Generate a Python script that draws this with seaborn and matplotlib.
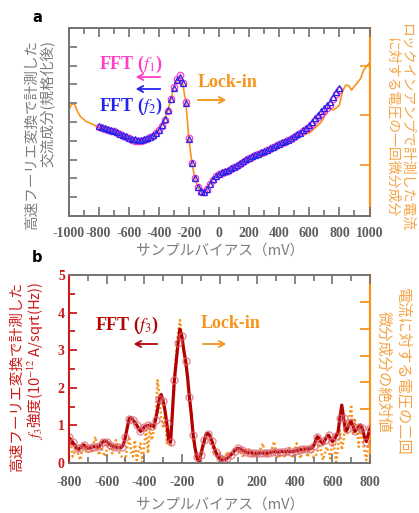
import numpy as np
import matplotlib
matplotlib.use("Agg")
import matplotlib.pyplot as plt
import seaborn as sns

# ---- panel a data (normalised) ----
bias_a_lockin = np.arange(-1000, 1001, 20)
lockin_a = [5.6, 5.95, 5.95, 5.55, 5.28, 5.15, 5.02, 4.95, 4.88, 4.8,
            4.72, 4.68, 4.63, 4.58, 4.52, 4.47, 4.42, 4.34, 4.27, 4.2,
            4.12, 4.02, 3.85, 3.92, 4.0, 4.04, 4.12, 4.2, 4.3, 4.42,
            4.56, 4.82, 5.15, 5.6, 6.2, 6.82, 7.25, 7.4, 7.0, 6.0,
            4.1, 2.8, 2.0, 1.55, 1.3, 1.28, 1.43, 1.7, 1.95, 2.14,
            2.25, 2.3, 2.37, 2.45, 2.54, 2.62, 2.71, 2.81, 2.91, 3.0,
            3.08, 3.16, 3.24, 3.31, 3.37, 3.44, 3.51, 3.58, 3.66, 3.74,
            3.82, 3.9, 3.96, 4.02, 4.08, 4.14, 4.2, 4.26, 4.31, 4.36,
            4.42, 4.55, 4.7, 4.84, 5.0, 5.28, 5.73, 5.7, 5.64, 5.75,
            5.9, 6.6, 6.95, 6.95, 6.7, 6.9, 7.1, 7.3, 7.75, 7.95,
            8.15]

bias_a_fft = np.arange(-800, 801, 20)
fft_f1 = [4.72, 4.7, 4.64, 4.6, 4.54, 4.5, 4.43, 4.36, 4.28, 4.2,
          4.13, 4.06, 4.0, 3.97, 3.98, 4.02, 4.1, 4.18, 4.28, 4.4,
          4.55, 4.8, 5.12, 5.6, 6.2, 6.85, 7.3, 7.52, 7.1, 6.05,
          4.15, 2.82, 2.0, 1.55, 1.3, 1.27, 1.42, 1.7, 1.94, 2.12,
          2.22, 2.28, 2.35, 2.42, 2.52, 2.6, 2.68, 2.78, 2.88, 2.98,
          3.06, 3.14, 3.22, 3.29, 3.35, 3.42, 3.49, 3.57, 3.65, 3.73,
          3.82, 3.89, 3.95, 4.02, 4.09, 4.2, 4.3, 4.4, 4.5, 4.62,
          4.76, 4.92, 5.1, 5.26, 5.44, 5.6, 5.76, 5.92, 6.2, 6.5,
          6.72]
fft_f2 = [4.78, 4.72, 4.68, 4.62, 4.57, 4.52, 4.46, 4.38, 4.31, 4.24,
          4.17, 4.11, 4.07, 4.04, 4.04, 4.07, 4.13, 4.21, 4.31, 4.43,
          4.57, 4.82, 5.16, 5.62, 6.22, 6.82, 7.25, 7.42, 7.05, 6.0,
          4.1, 2.8, 2.0, 1.56, 1.33, 1.3, 1.45, 1.72, 1.96, 2.15,
          2.26, 2.32, 2.39, 2.46, 2.55, 2.63, 2.72, 2.82, 2.92, 3.02,
          3.1, 3.18, 3.25, 3.32, 3.38, 3.45, 3.52, 3.6, 3.68, 3.76,
          3.85, 3.92, 3.98, 4.05, 4.13, 4.24, 4.34, 4.44, 4.56, 4.7,
          4.86, 5.02, 5.2, 5.36, 5.56, 5.72, 5.88, 6.04, 6.32, 6.6,
          6.82]

# ---- panel b data ----
bias_b = np.arange(-800, 801, 10)
fft_f3 = [0.68, 0.62, 0.55, 0.48, 0.4, 0.36, 0.4, 0.46, 0.48, 0.43,
          0.39, 0.4, 0.42, 0.43, 0.43, 0.42, 0.44, 0.5, 0.56, 0.59,
          0.57, 0.52, 0.48, 0.45, 0.43, 0.42, 0.42, 0.41, 0.42, 0.5,
          0.7, 0.95, 1.18, 1.21, 1.15, 1.08, 1.01, 0.92, 0.84, 0.88,
          0.96, 0.99, 1.0, 1.01, 0.99, 0.97, 1.15, 1.4, 1.7, 1.82,
          1.66, 1.4, 1.06, 0.6, 0.55, 1.4, 2.2, 2.7, 3.2, 3.56,
          3.38, 3.0, 2.72, 2.3, 1.75, 1.3, 0.75, 0.4, 0.15, 0.04,
          0.2, 0.43, 0.6, 0.78, 0.78, 0.72, 0.58, 0.43, 0.3, 0.17,
          0.12, 0.08, 0.08, 0.1, 0.12, 0.17, 0.21, 0.26, 0.32, 0.37,
          0.39, 0.38, 0.35, 0.32, 0.3, 0.28, 0.27, 0.27, 0.26, 0.26,
          0.26, 0.26, 0.27, 0.26, 0.26, 0.27, 0.26, 0.28, 0.29, 0.3,
          0.3, 0.29, 0.3, 0.31, 0.3, 0.3, 0.31, 0.3, 0.3, 0.31,
          0.32, 0.33, 0.34, 0.36, 0.36, 0.37, 0.37, 0.38, 0.38, 0.39,
          0.45, 0.58, 0.7, 0.66, 0.56, 0.52, 0.6, 0.7, 0.74, 0.65,
          0.57, 0.62, 0.72, 0.82, 1.2, 1.54, 1.2, 0.85, 0.9, 1.05,
          1.1, 0.98, 0.84, 0.9, 0.96, 1.01, 0.92, 0.7, 0.57, 0.75,
          0.92]
lockin_b = [1.12, 0.7, 0.24, 0.42, 0.6, 0.28, 0.11, 0.49, 0.73, 0.42,
            0.36, 0.55, 0.42, 0.73, 0.98, 0.56, 0.29, 0.6, 0.42, 0.24,
            0.49, 0.73, 0.49, 0.36, 0.63, 0.85, 0.49, 0.35, 0.24, 0.17,
            0.11, 0.63, 0.98, 0.42, 0.24, 0.85, 0.11, 0.42, 0.73, 0.04,
            0.7, 1.23, 0.36, 1.36, 0.85, 1.19, 1.48, 3.08, 2.59, 1.68,
            1.36, 1.85, 0.73, 1.23, 0.6, 2.1, 3.22, 4.06, 4.9, 5.32,
            4.62, 4.2, 3.64, 3.08, 2.38, 1.68, 0.98, 0.49, 0.14, 0.07,
            0.28, 0.49, 0.77, 0.98, 1.05, 0.84, 0.63, 0.42, 0.28, 0.21,
            0.42, 0.14, 0.28, 0.17, 0.42, 0.21, 0.36, 0.28, 0.49, 0.6,
            0.42, 0.49, 0.28, 0.24, 0.42, 0.35, 0.55, 0.42, 0.21, 0.28,
            0.36, 0.42, 0.56, 0.73, 0.42, 0.21, 0.36, 0.42, 0.56, 0.8,
            0.42, 0.17, 0.28, 0.49, 0.35, 0.21, 0.42, 0.6, 0.42, 0.17,
            0.42, 0.73, 0.49, 0.17, 0.42, 0.6, 0.42, 0.21, 0.67, 0.49,
            0.21, 0.28, 0.36, 0.8, 0.42, 0.11, 0.35, 0.6, 0.42, 0.17,
            0.85, 0.56, 0.04, 0.56, 1.23, 0.49, 0.84, 1.6, 1.12, 1.68,
            2.17, 1.1, 1.6, 1.26, 0.6, 1.36, 0.84, 0.49, 0.11, 0.7,
            1.1]

sns.set_theme(style="white")
plt.rcParams["font.family"] = ["Noto Sans CJK JP", "DejaVu Sans"]
plt.rcParams["mathtext.fontset"] = "stix"

PINK = "#ff3ec8"
BLUE = "#2424f0"
ORANGE = "#f7941d"
ORANGE_LT = "#f5a445"
DARKRED = "#b40000"
RED = "#cc1a1a"
GRAY = "#727272"
TICKTXT = "#5e5e5e"
SERIF = "Liberation Serif"

W, H = 419, 513
fig = plt.figure(figsize=(W / 100, H / 100), dpi=100)


def fx(px):
    return px / W


def fy(py):
    return 1 - py / H


def arrow(x0, x1, y, color):
    # arrow pointing from x0 to x1, in picture pixels
    fig.add_artist(matplotlib.patches.FancyArrowPatch(
        (fx(x0), fy(y)), (fx(x1), fy(y)), transform=fig.transFigure,
        arrowstyle="->,head_length=4,head_width=2.2", color=color, lw=1.3))


def style_x(ax, lo, hi, major):
    ax.set_xlim(lo, hi)
    ticks = list(range(lo, hi + 1, major))
    ax.set_xticks(ticks, labels=[str(t) for t in ticks], fontfamily=SERIF,
                  fontweight="bold", fontsize=10, color=TICKTXT)
    ax.set_xticks(range(lo, hi + 1, major // 2), minor=True)
    ax.tick_params(axis="x", which="both", direction="in", top=True, bottom=True,
                   color=GRAY, width=1.2, pad=8)
    ax.tick_params(axis="x", which="major", length=6.5)
    ax.tick_params(axis="x", which="minor", length=4)


# ================= panel a =================
ax_a = fig.add_axes([fx(68.5), fy(216), fx(301), 188 / H])
ax_a2 = ax_a.twinx()

sns.lineplot(x=bias_a_lockin, y=lockin_a, ax=ax_a2, color=ORANGE, lw=1.2,
             sort=False, errorbar=None)
sns.lineplot(x=bias_a_fft, y=fft_f1, ax=ax_a, marker="o", linestyle="",
             markerfacecolor="none", markeredgecolor=PINK, markersize=4.6,
             markeredgewidth=0.9, sort=False, errorbar=None)
sns.lineplot(x=bias_a_fft, y=fft_f2, ax=ax_a, marker="^", linestyle="",
             markerfacecolor="none", markeredgecolor=BLUE, markersize=4.2,
             markeredgewidth=0.9, sort=False, errorbar=None)

ax_a.set_zorder(ax_a2.get_zorder() + 1)
ax_a.patch.set_visible(False)
ax_a.set_ylim(0, 10)
ax_a2.set_ylim(0, 10)
style_x(ax_a, -1000, 1000, 200)
ax_a.set_yticks(range(1, 10))
ax_a.tick_params(axis="y", direction="in", length=6, width=1.2, color=GRAY,
                 labelleft=False, left=True)
ax_a2.set_yticks([2.7, 5.35, 8.0])
ax_a2.tick_params(axis="y", direction="in", length=7, width=1.2, color=ORANGE,
                  labelright=False, right=True)
for s in ["left", "top", "bottom"]:
    ax_a.spines[s].set_color(GRAY)
    ax_a.spines[s].set_linewidth(1.4)
    ax_a2.spines[s].set_visible(False)
ax_a.spines["right"].set_visible(False)
ax_a2.spines["right"].set_color(ORANGE)
ax_a2.spines["right"].set_linewidth(1.6)
ax_a.set_xlabel("")
ax_a.set_ylabel("")
ax_a2.set_ylabel("")

fig.text(fx(37), fy(18), "a", fontsize=10.5, fontweight="bold", color="black",
         ha="center", va="center", family="DejaVu Sans")
fig.text(fx(131), fy(64), "FFT ($f_1$)", color=PINK, fontsize=13, family=SERIF,
         fontweight="bold", ha="center", va="center")
fig.text(fx(131), fy(106), "FFT ($f_2$)", color=BLUE, fontsize=13, family=SERIF,
         fontweight="bold", ha="center", va="center")
fig.text(fx(228), fy(83), "Lock-in", color=ORANGE, fontsize=13, family=SERIF,
         fontweight="bold", ha="center", va="center")
arrow(163, 133, 77, PINK)
arrow(163, 133, 89, BLUE)
arrow(195, 229, 100, ORANGE)

fig.text(fx(40), fy(135), "高速フーリエ変換で計測した\n交流成分(規格化後)",
         rotation=90, ha="center", va="center", multialignment="right",
         color="#7d7d7d", fontsize=10.5, linespacing=1.1)
fig.text(fx(399), fy(127), "ロックインアンプで計測した電流\nに対する電圧の一回微分成分",
         rotation=-90, ha="center", va="center", multialignment="center",
         color=ORANGE_LT, fontsize=10, linespacing=1.1)
fig.text(fx(220), fy(251), "サンプルバイアス（mV）", ha="center", va="center",
         color="#7d7d7d", fontsize=10.5)

# ================= panel b =================
ax_b = fig.add_axes([fx(69), fy(463), fx(301), 188 / H])
ax_b2 = ax_b.twinx()

sns.lineplot(x=bias_b, y=lockin_b, ax=ax_b2, color=ORANGE, lw=1.8,
             linestyle=(0, (0.8, 1.0)), sort=False, errorbar=None)
sns.lineplot(x=bias_b, y=fft_f3, ax=ax_b, color=DARKRED, lw=2.3, marker="o",
             markevery=2, markersize=5, markerfacecolor="none",
             markeredgecolor=(0.85, 0.4, 0.45, 0.75), markeredgewidth=1.0,
             sort=False, errorbar=None)

ax_b.set_zorder(ax_b2.get_zorder() + 1)
ax_b.patch.set_visible(False)
ax_b.set_ylim(0, 5)
ax_b2.set_ylim(0, 7)
style_x(ax_b, -800, 800, 200)
ax_b.tick_params(axis="x", pad=9)
ax_b.set_yticks(range(0, 6), labels=[str(t) for t in range(0, 6)], fontfamily=SERIF,
                fontweight="bold", fontsize=10, color=RED)
ax_b.set_yticks(np.arange(0.5, 5, 1.0), minor=True)
ax_b.tick_params(axis="y", which="both", direction="in", color=RED, width=1.3,
                 left=True, pad=3)
ax_b.tick_params(axis="y", which="major", length=6)
ax_b.tick_params(axis="y", which="minor", length=4)
ax_b2.set_yticks(range(2, 7))
ax_b2.tick_params(axis="y", direction="in", length=7, width=1.3, color=ORANGE,
                  labelright=False, right=True)
for s in ["top", "bottom"]:
    ax_b.spines[s].set_color(GRAY)
    ax_b.spines[s].set_linewidth(1.4)
ax_b.spines["left"].set_color(RED)
ax_b.spines["left"].set_linewidth(1.5)
ax_b.spines["right"].set_visible(False)
for s in ["left", "top", "bottom"]:
    ax_b2.spines[s].set_visible(False)
ax_b2.spines["right"].set_color(ORANGE)
ax_b2.spines["right"].set_linewidth(1.6)
ax_b.set_xlabel("")
ax_b.set_ylabel("")
ax_b2.set_ylabel("")

fig.text(fx(37), fy(258), "b", fontsize=10.5, fontweight="bold", color="black",
         ha="center", va="center", family="DejaVu Sans")
fig.text(fx(127), fy(325), "FFT ($f_3$)", color=DARKRED, fontsize=13, family=SERIF,
         fontweight="bold", ha="center", va="center")
fig.text(fx(231), fy(324), "Lock-in", color=ORANGE, fontsize=13, family=SERIF,
         fontweight="bold", ha="center", va="center")
arrow(160, 131, 344, DARKRED)
arrow(200, 229, 344, ORANGE)

fig.text(fx(28), fy(377), "高速フーリエ変換で計測した\n$f_3$強度(10$^{-12}$ A/sqrt(Hz))",
         rotation=90, ha="center", va="center", multialignment="right",
         color=RED, fontsize=10.5, linespacing=1.15)
fig.text(fx(393), fy(372), "電流に対する電圧の二回\n微分成分の絶対値",
         rotation=-90, ha="center", va="center", multialignment="center",
         color=ORANGE_LT, fontsize=11, linespacing=1.15)
fig.text(fx(220), fy(505), "サンプルバイアス（mV）", ha="center", va="center",
         color="#7d7d7d", fontsize=10.5)

fig.savefig("out.png", dpi=100, facecolor="white")
